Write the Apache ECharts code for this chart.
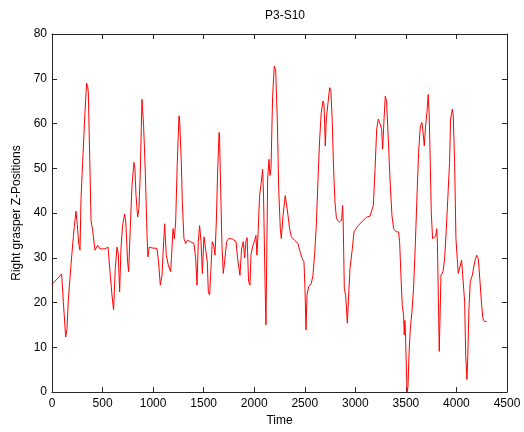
<!DOCTYPE html>
<html>
<head>
<meta charset="utf-8">
<script src="https://cdn.jsdelivr.net/npm/echarts@6/dist/echarts.min.js"></script>
<style>
html,body{margin:0;padding:0;background:#fff;}
#c{width:524px;height:432px;}
</style>
</head>
<body>
<div id="c"></div>
<script>
const chartTitle = 'P3-S10';
const xName = 'Time';
const yName = 'Right grasper Z-Positions';
const xTicks = [0, 500, 1000, 1500, 2000, 2500, 3000, 3500, 4000, 4500];
const yTicks = [0, 10, 20, 30, 40, 50, 60, 70, 80];

const times = [
  0, 30, 60, 95, 112, 135, 148, 161, 188, 211, 221, 237, 250, 265, 277, 287, 303, 326, 342, 352, 359, 376, 386, 402, 425, 451, 475, 500, 525, 554,
  577, 593, 609, 626, 643, 655, 669, 682, 698, 718, 730, 748, 758, 774, 791, 811, 820, 831, 847, 860, 873, 890, 897, 906, 923, 940, 949, 962, 989, 1038,
  1054, 1071, 1088, 1104, 1114, 1130, 1150, 1173, 1183, 1197, 1210, 1223, 1239, 1256, 1262, 1279, 1289, 1305, 1322, 1338, 1371, 1404, 1421, 1434, 1447, 1460, 1474, 1487, 1503, 1519,
  1536, 1546, 1559, 1572, 1585, 1602, 1612, 1625, 1638, 1652, 1657, 1661, 1671, 1681, 1694, 1707, 1727, 1747, 1786, 1820, 1836, 1859, 1875, 1892, 1905, 1918, 1930, 1944, 1958, 1968,
  1984, 2001, 2017, 2027, 2040, 2053, 2070, 2083, 2092, 2107, 2116, 2133, 2146, 2156, 2166, 2182, 2198, 2212, 2229, 2242, 2258, 2268, 2285, 2307, 2320, 2334, 2350, 2367, 2400, 2433,
  2449, 2475, 2492, 2502, 2512, 2522, 2538, 2565, 2581, 2598, 2614, 2631, 2647, 2663, 2680, 2690, 2703, 2713, 2730, 2746, 2758, 2772, 2785, 2799, 2812, 2822, 2842, 2865, 2874, 2880,
  2891, 2905, 2921, 2931, 2947, 2970, 2987, 3007, 3029, 3062, 3079, 3112, 3145, 3178, 3195, 3211, 3227, 3245, 3260, 3270, 3284, 3296, 3309, 3326, 3343, 3362, 3379, 3405, 3428, 3438,
  3451, 3464, 3477, 3484, 3490, 3497, 3511, 3520, 3531, 3544, 3560, 3576, 3593, 3610, 3626, 3643, 3659, 3670, 3682, 3695, 3708, 3721, 3731, 3741, 3751, 3764, 3778, 3795, 3805, 3812,
  3830, 3847, 3867, 3883, 3900, 3916, 3932, 3942, 3959, 3968, 3982, 3995, 4008, 4018, 4035, 4051, 4068, 4081, 4092, 4104, 4112, 4124, 4137, 4157, 4180, 4200, 4216, 4233, 4249, 4262,
  4275, 4290, 4298
];
const zPositions = [
  24, 24.8, 25.5, 26.4, 20.3, 12.3, 14, 20.3, 28.5, 34.7, 37, 40.4, 37.5, 33, 31.7, 43.2, 51.3, 62.4, 69, 68.5, 67, 49.2, 38.4, 36.1, 31.7, 32.8, 32, 32, 32, 32.4,
  26.1, 21.7, 18.4, 27.6, 32.4, 31, 22.4, 32, 37.2, 39.8, 38, 29.1, 26.9, 36.5, 46.1, 51.3, 50, 43.9, 39.1, 41, 49.1, 65.4, 65, 59.5, 49.1, 35, 30.2, 32.4, 32.2, 32.1,
  29.1, 23.9, 26.1, 33.6, 37.6, 30.6, 28.4, 26.9, 30.6, 36.5, 34.3, 38, 51.3, 61.7, 61, 51.3, 42.4, 34.3, 33.2, 33.9, 33.6, 33.2, 29.8, 23.9, 33.6, 37.2, 33.6, 26.5, 34.7, 34.3,
  29.1, 22.4, 21.7, 27.6, 33.6, 32.6, 30.6, 38, 49.1, 58, 57.5, 52.8, 42.4, 32.8, 26.5, 29.1, 33.6, 34.3, 34.2, 33.6, 29.8, 26.1, 32, 33.6, 30, 33.6, 34.5, 24.7, 23.9, 30.6,
  32.6, 33.6, 35, 30.6, 36.5, 43.9, 46.9, 49.8, 44, 24.7, 15, 47.6, 52, 48.4, 50, 66.1, 72.8, 72, 60.2, 45.4, 36.5, 34.3, 39.5, 43.9, 44, 39.5, 36.5, 34.7, 33.9, 33.2,
  31.7, 29.8, 29.1, 23.2, 13.9, 21.7, 23.6, 24.3, 26.1, 31, 37.2, 47.6, 56.5, 62.4, 65, 64.5, 55, 61, 64.7, 68, 67.5, 60.2, 49.8, 42.4, 39.1, 38.4, 38, 38.4, 41.7, 38,
  23.2, 21.5, 15.4, 20.2, 27.6, 32, 35.8, 36.5, 37.2, 38, 38.4, 39.1, 39.3, 41.7, 49.8, 58.7, 61, 60, 58.7, 54.3, 61, 66.1, 65, 56.5, 47.6, 39.5, 36.5, 35.8, 35.8, 33.6,
  26.1, 19.5, 17.2, 12.8, 16, 12.1, 0, 1, 8.4, 14.3, 18, 23.2, 32.8, 43.9, 53.6, 59.5, 60.2, 58, 55, 59.5, 62.4, 66.5, 61.7, 51.3, 40.2, 34.3, 34.5, 34.8, 36.5, 33,
  9.1, 26.1, 26.9, 29.8, 36.5, 43.9, 51.3, 61, 63.2, 62, 51.3, 34.3, 29.8, 26.5, 28, 29.5, 29.8, 20.2, 8, 2.8, 8, 18.7, 24.7, 26.1, 29.1, 30.6, 29.8, 24.7, 19.5, 16.5,
  15.8, 16.2, 15.8
];

const seriesData = times.map((t, i) => [t, zPositions[i]]);

const font = '"Liberation Sans", Arial, sans-serif';
const axisCol = '#262626';
const xMin = xTicks[0], xMax = xTicks[xTicks.length - 1], xStep = xTicks[1] - xTicks[0];
const yMin = yTicks[0], yMax = yTicks[yTicks.length - 1], yStep = yTicks[1] - yTicks[0];

function mkX(pos, showLabel, name) {
  return {
    type: 'value', position: pos, min: xMin, max: xMax, interval: xStep,
    name: name || '', nameLocation: 'middle', nameGap: 18,
    nameTextStyle: { color: '#000', fontFamily: font, fontSize: 12 },
    axisLine: { show: true, onZero: false, lineStyle: { color: axisCol, width: 1 } },
    axisTick: { show: true, inside: true, length: 5, lineStyle: { color: axisCol } },
    axisLabel: { show: showLabel, color: '#000', fontFamily: font, fontSize: 12, margin: 6,
      formatter: (v) => String(v) },
    splitLine: { show: false }
  };
}
function mkY(pos, showLabel, name) {
  return {
    type: 'value', position: pos, min: yMin, max: yMax, interval: yStep,
    name: name || '', nameLocation: 'middle', nameGap: 29,
    nameTextStyle: { color: '#000', fontFamily: font, fontSize: 12 },
    axisLine: { show: true, onZero: false, lineStyle: { color: axisCol, width: 1 } },
    axisTick: { show: true, inside: true, length: 5, lineStyle: { color: axisCol } },
    axisLabel: { show: showLabel, color: '#000', fontFamily: font, fontSize: 12, margin: 5,
      formatter: (v) => String(v) },
    splitLine: { show: false }
  };
}

const chart = echarts.init(document.getElementById('c'), null, { renderer: 'canvas' });
chart.setOption({
  animation: false,
  backgroundColor: '#fff',
  title: {
    text: chartTitle, left: 280, top: 5, textAlign: 'center',
    textStyle: { color: '#000', fontFamily: font, fontSize: 12, fontWeight: 'normal' }
  },
  grid: { left: 52, right: 17, top: 34, bottom: 38, containLabel: false },
  xAxis: [mkX('bottom', true, xName), mkX('top', false)],
  yAxis: [mkY('left', true, yName), mkY('right', false)],
  series: [{
    type: 'line', data: seriesData, xAxisIndex: 0, yAxisIndex: 0,
    showSymbol: false, symbol: 'none', smooth: false,
    lineStyle: { color: '#ff0000', width: 1 }
  }]
});
</script>
</body>
</html>
